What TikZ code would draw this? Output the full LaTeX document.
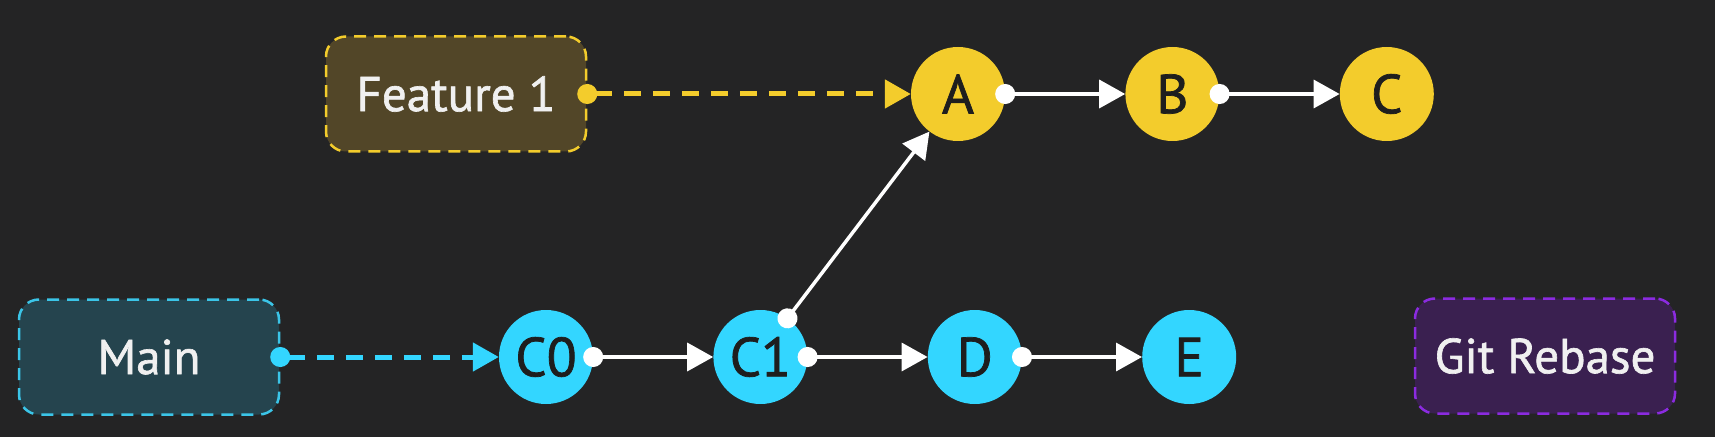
\documentclass[tikz,border=0pt]{standalone}
\usepackage{fontspec}
\setmainfont{PT Sans}
\newfontfamily\labelfont{PT Sans}[FakeBold=1.3]
\usetikzlibrary{arrows.meta,positioning}

\definecolor{bgdark}{HTML}{242425}
\definecolor{commityellow}{HTML}{F3CC2C}
\definecolor{commitcyan}{HTML}{33D6FF}
\definecolor{inkdark}{HTML}{1E1E1E}
\definecolor{featurefill}{HTML}{524628}
\definecolor{mainfill}{HTML}{25444E}
\definecolor{mainedge}{HTML}{3BC5E8}
\definecolor{rebasefill}{HTML}{3A2050}
\definecolor{rebaseedge}{HTML}{8B2BE0}

\begin{document}
\begin{tikzpicture}[x=1pt,y=1pt,node distance=120pt,
  commit/.style={circle,minimum size=94pt,inner sep=0pt,text=inkdark,font=\labelfont\fontsize{55}{55}\selectfont},
  branch/.style={rounded corners=20pt,minimum width=260pt,minimum height=115pt,line width=2.5pt,dash pattern=on 12pt off 8pt,text={white!94!black},font=\labelfont\fontsize{49}{49}\selectfont},
  link/.style={white,line width=3.5pt,{Circle[length=20pt]}-{Triangle[length=26pt,width=28pt]},shorten <=-10pt},
  ptr/.style={line width=5pt,dash pattern=on 17pt off 12pt,{Circle[length=20pt]}-{Triangle[length=26pt,width=28pt]},shorten <=-10pt}]
 \fill[bgdark] (0,0) rectangle (1715,437);

 \node[commit,fill=commitcyan] (c0) at (546,80) {C0};
 \node[commit,fill=commitcyan,right = of c0] (c1) {C1};
 \node[commit,fill=commitcyan,right = of c1] (d) {D};
 \node[commit,fill=commitcyan,right = of d] (e) {E};

 \node[commit,fill=commityellow] (a) at (958,343) {A};
 \node[commit,fill=commityellow,right = of a] (b) {B};
 \node[commit,fill=commityellow,right = of b] (c) {C};

 \node[branch,fill=featurefill,draw=commityellow] (feature) at (456,343) {Feature 1};
 \node[branch,fill=mainfill,draw=mainedge] (main) at (149,80) {Main};
 \node[branch,fill=rebasefill,draw=rebaseedge] (rebase) at (1545,81) {Git Rebase};

 \draw[ptr,commityellow] (feature) -- (a);
 \draw[ptr,commitcyan] (main) -- (c0);
 \draw[link] (c0) -- (c1);
 \draw[link] (c1) -- (d);
 \draw[link] (d) -- (e);
 \draw[link] (c1.55) -- (a);
 \draw[link] (a) -- (b);
 \draw[link] (b) -- (c);
\end{tikzpicture}
\end{document}
